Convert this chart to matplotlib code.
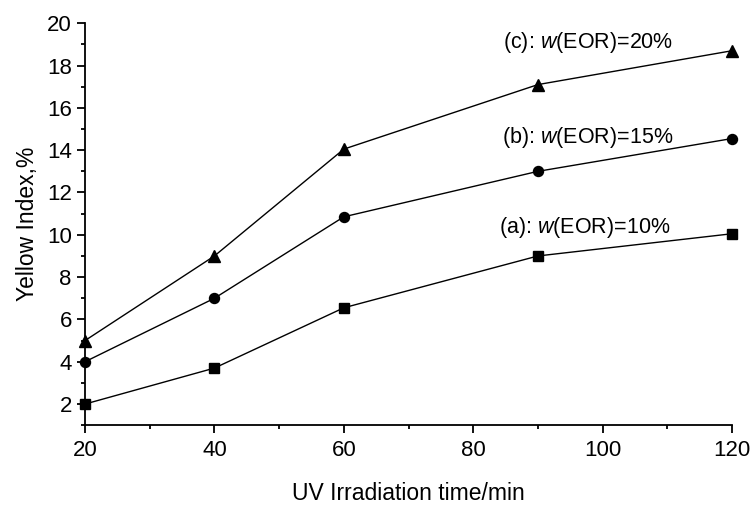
import matplotlib
matplotlib.use("Agg")
import matplotlib.pyplot as plt
from matplotlib.ticker import MultipleLocator

plt.rcParams['font.family'] = ['Liberation Sans', 'DejaVu Sans']
plt.rcParams['mathtext.fontset'] = 'custom'
plt.rcParams['mathtext.it'] = 'Liberation Sans:italic'
plt.rcParams['mathtext.rm'] = 'Liberation Sans'

time_min = [20, 40, 60, 90, 120]
yi_a = [2.0, 3.7, 6.55, 9.0, 10.05]
yi_b = [4.0, 7.0, 10.85, 13.0, 14.55]
yi_c = [5.0, 9.0, 14.05, 17.1, 18.7]
labels = ["(a): $w$(EOR)=10%", "(b): $w$(EOR)=15%", "(c): $w$(EOR)=20%"]
label_pos = [(84.0, 10.36), (84.4, 14.6), (84.6, 19.1)]

fig = plt.figure(figsize=(7.55, 5.05), dpi=100)
ax = fig.add_axes([0.1126, 0.158, 0.857, 0.796])

ax.plot(time_min, yi_a, color='black', lw=1.0, marker='s', ms=6.5, clip_on=False, zorder=3)
ax.plot(time_min, yi_b, color='black', lw=1.0, marker='o', ms=7.2, clip_on=False, zorder=3)
ax.plot(time_min, yi_c, color='black', lw=1.0, marker='^', ms=8.5, clip_on=False, zorder=3)

for (tx, ty), lab in zip(label_pos, labels):
    ax.text(tx, ty, lab, fontsize=15.5, ha='left', va='center')

ax.set_xlim(20, 120)
ax.set_ylim(1, 20)
ax.xaxis.set_major_locator(MultipleLocator(20))
ax.xaxis.set_minor_locator(MultipleLocator(10))
ax.yaxis.set_major_locator(MultipleLocator(2))
ax.yaxis.set_minor_locator(MultipleLocator(1))
ax.spines['top'].set_visible(False)
ax.spines['right'].set_visible(False)
for s in ('left', 'bottom'):
    ax.spines[s].set_linewidth(1.3)
ax.tick_params(which='major', direction='out', length=5.5, width=1.3, labelsize=16, pad=4)
ax.tick_params(axis='x', which='major', pad=5.5)
ax.tick_params(which='minor', direction='out', length=3, width=1.3)

ax.set_xlabel("UV Irradiation time/min", fontsize=16.5, labelpad=15)
ax.set_ylabel("Yellow Index,%", fontsize=16.5, labelpad=6)

fig.savefig("out.png", dpi=100)
